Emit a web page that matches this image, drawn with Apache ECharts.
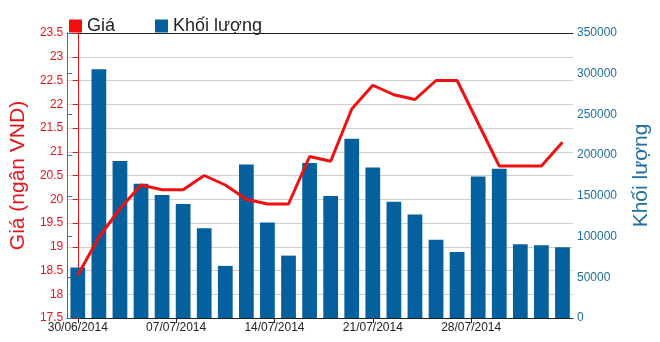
<!DOCTYPE html>
<html>
<head>
<meta charset="utf-8">
<script src="https://cdn.jsdelivr.net/npm/echarts@6/dist/echarts.min.js"></script>
<style>html,body{margin:0;padding:0;background:#fff}#c{width:660px;height:342px}</style>
</head>
<body>
<div id="c"></div>
<script>
var categories = ['30/06','01/07','02/07','03/07','04/07','07/07','08/07','09/07','10/07','11/07','14/07','15/07','16/07','17/07','18/07','21/07','22/07','23/07','24/07','25/07','28/07','29/07','30/07','31/07'];
var priceValues = [18.4,19.2,19.8,20.3,20.2,20.2,20.5,20.3,20.0,19.9,19.9,20.9,20.8,21.9,22.4,22.2,22.1,22.5,22.5,21.6,20.7,20.7,20.7,21.2];
var volumeValues = [62000,305500,192700,164900,151000,140000,110100,64000,188500,117400,76600,190200,149800,220000,184900,142800,127200,96200,81100,173800,183300,90500,89200,86800];
var tickLabels = ['30/06/2014','07/07/2014','14/07/2014','21/07/2014','28/07/2014'];
var tickPositions = [0, 4.667, 9.333, 14, 18.667];

var chart = echarts.init(document.getElementById('c'));
chart.setOption({
  animation: false,
  textStyle: {fontFamily: 'Liberation Sans, Arial, sans-serif'},
  legend: {
    left: 64, top: 12, icon: 'rect', itemWidth: 13, itemHeight: 13, itemGap: 40,
    textStyle: {fontSize: 18, color: '#222', fontFamily: 'Liberation Sans, Arial, sans-serif'},
    data: ['Giá', 'Khối lượng']
  },
  grid: {left: 62, right: 85, top: 33, bottom: 24, show: false},
  xAxis: [{
    type: 'category', data: categories, boundaryGap: true,
    axisLine: {show: false}, axisTick: {show: false}, axisLabel: {show: false}
  }, {
    type: 'value', min: -0.5, max: 23.5, position: 'bottom',
    axisLine: {show: true, lineStyle: {color: '#222', width: 1}},
    splitLine: {show: false},
    axisTick: {show: true, length: 5, lineStyle: {color: '#222'}, customValues: tickPositions},
    axisLabel: {
      show: true, color: '#222', fontSize: 12, margin: 4, customValues: tickPositions,
      formatter: function (v) {
        var best = 0;
        for (var i = 1; i < tickPositions.length; i++) {
          if (Math.abs(tickPositions[i] - v) < Math.abs(tickPositions[best] - v)) best = i;
        }
        return tickLabels[best];
      }
    }
  }, {
    type: 'value', min: 0, max: 1, position: 'top',
    axisLine: {show: true, lineStyle: {color: '#222', width: 1}},
    axisTick: {show: false}, axisLabel: {show: false}, splitLine: {show: false}
  }],
  yAxis: [{
    type: 'value', min: 17.5, max: 23.5, interval: 0.5, position: 'left',
    name: 'Giá (ngân VND)', nameLocation: 'middle', nameGap: 37,
    nameTextStyle: {color: '#e8141c', fontSize: 21},
    axisLine: {show: true, lineStyle: {color: '#e8141c', width: 1}},
    axisTick: {show: true, length: 5, lineStyle: {color: '#e8141c'}},
    axisLabel: {color: '#e8141c', fontSize: 12, margin: 4},
    splitLine: {show: true, lineStyle: {color: '#cfcfcf', width: 1}}
  }, {
    type: 'value', min: 0, max: 350000, interval: 50000, position: 'right',
    name: 'Khối lượng', nameLocation: 'middle', nameGap: 58,
    nameTextStyle: {color: '#1f6fa3', fontSize: 21},
    axisLine: {show: true, lineStyle: {color: '#2a7ab0', width: 1}},
    axisTick: {show: true, length: 5, lineStyle: {color: '#2a7ab0'}},
    axisLabel: {color: '#1f6fa3', fontSize: 12, margin: 4, formatter: function (v) { return String(v); }},
    splitLine: {show: false}
  }],
  series: [{
    name: 'Khối lượng', type: 'bar', xAxisIndex: 0, yAxisIndex: 1,
    data: volumeValues, barCategoryGap: '30%',
    itemStyle: {color: '#04619e'}, z: 2
  }, {
    name: 'Giá', type: 'line', xAxisIndex: 0, yAxisIndex: 0,
    data: priceValues, symbol: 'none', z: 3,
    lineStyle: {color: '#f01010', width: 3}, itemStyle: {color: '#f01010'}
  }]
});
</script>
</body>
</html>
